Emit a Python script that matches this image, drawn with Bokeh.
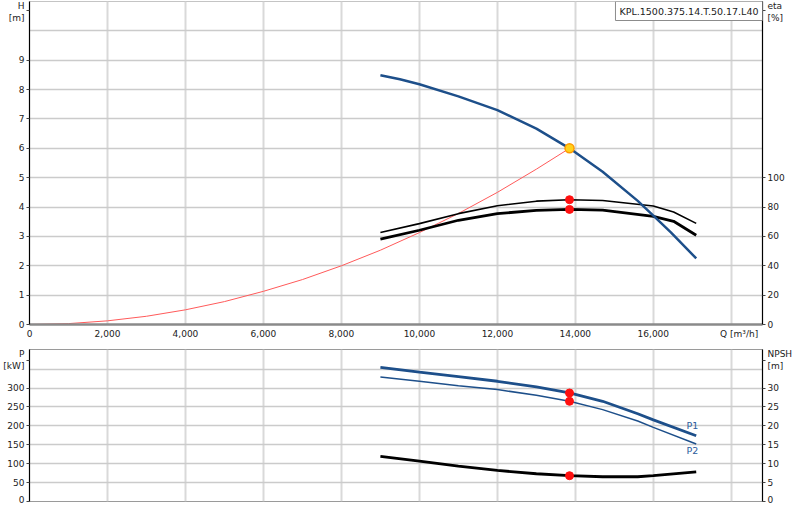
from bokeh.plotting import figure
from bokeh.models import Range1d, LinearAxis, FixedTicker, Label, NumeralTickFormatter
from bokeh.layouts import column
from bokeh.embed import file_html
from bokeh.resources import INLINE

# ---------------- data ----------------
q_grid = [0, 2000, 4000, 6000, 8000, 10000, 12000, 14000, 16000, 18000]
q_ticks = [0, 2000, 4000, 6000, 8000, 10000, 12000, 14000, 16000, 18200]
q_labels = {18200: "Q [m³/h]"}
h_grid = [0, 1, 2, 3, 4, 5, 6, 7, 8, 9, 10]
h_ticks = [0, 1, 2, 3, 4, 5, 6, 7, 8, 9, 10.7]
h_labels = {10.7: "H\n[m]"}
eta_ticks = [0, 20, 40, 60, 80, 100, 214]
eta_labels = {214: "eta\n[%]"}
p_grid = [0, 50, 100, 150, 200, 250, 300, 350]
p_ticks = [0, 50, 100, 150, 200, 250, 300, 373]
p_labels = {373: "P\n[kW]"}
npsh_ticks = [0, 5, 10, 15, 20, 25, 30, 37.3]
npsh_labels = {37.3: "NPSH\n[m]"}

# pump head curve H [m]
q_head = [9000, 9500, 10000, 11000, 12000, 13000, 13850, 14700, 15600, 16000, 16450, 17100]
head = [8.49, 8.35, 8.18, 7.77, 7.30, 6.67, 6.00, 5.20, 4.21, 3.71, 3.14, 2.25]

# efficiency curves eta [%]
q_eta = [9000, 10000, 11000, 12000, 13000, 13850, 14700, 16000, 16520, 17100]
eta_hyd = [62.6, 68.7, 75.5, 80.9, 84.0, 85.0, 84.5, 80.7, 76.6, 68.9]
eta_tot = [58.1, 64.2, 71.0, 75.5, 77.7, 78.4, 77.9, 73.7, 70.3, 60.8]

# system curve H [m]
q_sys = [0, 1000, 2000, 3000, 4000, 5000, 6000, 7000, 8000, 9000, 10000, 11000, 12000, 13000, 13850]
h_sys = [0, 0.03, 0.125, 0.28, 0.50, 0.78, 1.13, 1.53, 2.00, 2.53, 3.13, 3.78, 4.50, 5.29, 6.00]

# operating point
q_op = [13850]
h_op = [6.0]
eta_op = [85.0, 78.4]
p_op = [287, 265]
npsh_op = [6.82]

# power and NPSH curves
q_p = [9000, 10000, 11000, 12000, 13000, 13850, 14700, 15600, 16000, 17100]
p1_kw = [355, 342, 330, 318, 303, 287, 265, 232, 216, 174]
p2_kw = [329, 318, 306, 296, 281, 265, 243, 213, 196, 152]
npsh = [11.96, 10.66, 9.35, 8.21, 7.34, 6.82, 6.55, 6.55, 6.82, 7.86]

model = "KPL.1500.375.14.T.50.17.L40"

FONT = "DejaVu Sans"
FS = "9px"
BLUE = "#1d4f8a"
GRID_V = "#d9d9d9"
GRID_H = "#cbcbcb"
W = 795
BL, BR = 26, 31


def style_axis(ax, line_color="black", width=1.2, tick_out=3):
    ax.axis_line_color = line_color
    ax.axis_line_width = width
    ax.major_tick_out = tick_out
    ax.major_tick_in = 0
    ax.minor_tick_out = 0
    ax.minor_tick_in = 0
    ax.major_label_standoff = 2
    ax.major_label_text_font = FONT
    ax.major_label_text_font_size = FS
    ax.major_label_text_color = "#222222"
    ax.major_tick_line_color = "#444444"


def dtxt(p, x, y, t, align="left", color="#2b5c9c", size="9.5px"):
    lab = Label(x=x, y=y, text=t, text_align=align, text_baseline="middle",
                text_font=FONT, text_font_size=size, text_color=color)
    p.add_layout(lab)


# ---------------- top chart ----------------
XMAX = 18800
p1 = figure(width=W, height=347, x_range=Range1d(0, XMAX), y_range=Range1d(0, 11),
            output_backend="svg", toolbar_location=None,
            min_border_left=BL, min_border_right=BR, min_border_top=1, min_border_bottom=23)
p1.extra_y_ranges = {"eta": Range1d(0, 220)}
p1.outline_line_color = "#c4c4c4"

p1.xaxis.ticker = FixedTicker(ticks=q_ticks)
p1.xaxis.formatter = NumeralTickFormatter(format="0,0")
p1.xaxis.major_label_overrides = q_labels
p1.yaxis.ticker = FixedTicker(ticks=h_ticks)
p1.yaxis.major_label_overrides = h_labels
style_axis(p1.xaxis[0], "#8a8a8a", 2.5, tick_out=0)
p1.xaxis.major_label_standoff = 4
style_axis(p1.yaxis[0])
ax_eta = LinearAxis(y_range_name="eta", ticker=FixedTicker(ticks=eta_ticks),
                    major_label_overrides=eta_labels)
style_axis(ax_eta)
p1.add_layout(ax_eta, "right")

p1.xgrid.ticker = FixedTicker(ticks=q_grid)
p1.ygrid.ticker = FixedTicker(ticks=h_grid)
p1.xgrid.grid_line_color = GRID_V
p1.xgrid.grid_line_width = 2
p1.ygrid.grid_line_color = GRID_H
p1.ygrid.grid_line_width = 1.3

p1.line(q_sys, h_sys, line_color="#ff5a5a", line_width=1)
p1.line(q_eta, eta_hyd, line_color="black", line_width=1.6, y_range_name="eta")
p1.line(q_eta, eta_tot, line_color="black", line_width=2.8, y_range_name="eta")
p1.line(q_head, head, line_color=BLUE, line_width=2.5)
p1.scatter([q_op[0], q_op[0]], eta_op, size=8, fill_color="#ff1010", line_color="#ff1010",
           y_range_name="eta")
p1.scatter(q_op, h_op, size=9, fill_color="#ffd21a", line_color="#ff9a00", line_width=1.5)

box = Label(x=XMAX, y=11, text=model, text_align="right", text_baseline="top",
            text_font=FONT, text_font_size="9.5px", text_color="#222222",
            border_line_color="#8c8c8c", border_line_width=1,
            background_fill_color="white", padding=4)
p1.add_layout(box)

# ---------------- bottom chart ----------------
p2 = figure(width=W, height=157, x_range=p1.x_range, y_range=Range1d(0, 402),
            output_backend="svg", toolbar_location=None,
            min_border_left=BL, min_border_right=BR, min_border_top=2, min_border_bottom=3)
p2.extra_y_ranges = {"npsh": Range1d(0, 40.2)}
p2.outline_line_color = "#9a9a9a"

p2.xaxis.visible = False
p2.yaxis.ticker = FixedTicker(ticks=p_ticks)
p2.yaxis.major_label_overrides = p_labels
style_axis(p2.yaxis[0])
ax_npsh = LinearAxis(y_range_name="npsh", ticker=FixedTicker(ticks=npsh_ticks),
                     major_label_overrides=npsh_labels)
style_axis(ax_npsh)
p2.add_layout(ax_npsh, "right")

p2.xgrid.ticker = FixedTicker(ticks=q_grid)
p2.ygrid.ticker = FixedTicker(ticks=p_grid)
p2.xgrid.grid_line_color = GRID_V
p2.xgrid.grid_line_width = 2
p2.ygrid.grid_line_color = GRID_H
p2.ygrid.grid_line_width = 1.3

p2.line(q_p, p1_kw, line_color=BLUE, line_width=2.8)
p2.line(q_p, p2_kw, line_color=BLUE, line_width=1.5)
p2.line(q_p, npsh, line_color="black", line_width=2.8, y_range_name="npsh")
p2.scatter([q_op[0], q_op[0]], p_op, size=8, fill_color="#ff1010", line_color="#ff1010")
p2.scatter(q_op, npsh_op, size=8, fill_color="#ff1010", line_color="#ff1010",
           y_range_name="npsh")

dtxt(p2, 16850, 200, "P1")
dtxt(p2, 16850, 134, "P2")

layout = column(p1, p2, spacing=0)
open("out.html", "w").write(file_html(layout, INLINE))
